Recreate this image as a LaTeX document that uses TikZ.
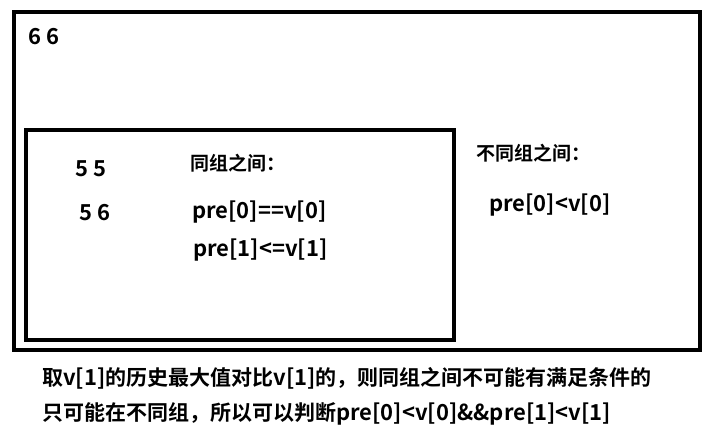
\documentclass[tikz,border=0pt]{standalone}
\usepackage{fontspec}
\setmainfont{Noto Sans CJK SC}[BoldFont={Noto Sans CJK SC Bold}]
\usepackage{tikz}

% latin runs are set a little larger than the chinese ones
\newcommand{\lat}[1]{{\fontsize{22}{24}\selectfont #1}}

\begin{document}
\begin{tikzpicture}[
    x=1pt, y=-1pt,
    box/.style={draw, line width=4.6pt},
    txt/.style={anchor=base west, inner sep=0pt, font=\fontsize{19}{22}\bfseries},
    num/.style={anchor=base west, inner sep=0pt, font=\fontsize{22}{24}\bfseries},
    note/.style={anchor=base west, inner sep=0pt, font=\fontsize{21}{24}\bfseries}
]

\useasboundingbox (0,0) rectangle (724,438);

%---------------------------------
% Boxes
%---------------------------------

% Outer box
\draw[box] (14,12) rectangle (700,350);

% Inner box (same group)
\draw[box] (26,130) rectangle (454,340);

%---------------------------------
% Texts
%---------------------------------

% Outer
\node[num] (p66) at (28,45) {6 6};

% Inner
\node[num] (p55) at (75,177) {5 5};
\node[num] (p56) at (79,221) {5 6};
\node[txt] (same)  at (190,171) {同组之间：};
\node[num] (same0) at (192,219) {pre[0]==v[0]};
\node[num] (same1) at (193,257) {pre[1]<=v[1]};

% Right of inner box
\node[txt] (diff)  at (476,161) {不同组之间：};
\node[num] (diff0) at (489,212) {pre[0]<v[0]};

% Below
\node[note] (line1) at (42,386) {取\lat{v[1]}的历史最大值对比\lat{v[1]}的，则同组之间不可能有满足条件的};
\node[note] (line2) at (42,421) {只可能在不同组，所以可以判断\lat{pre[0]<v[0]\&\&pre[1]<v[1]}};

\end{tikzpicture}
\end{document}
